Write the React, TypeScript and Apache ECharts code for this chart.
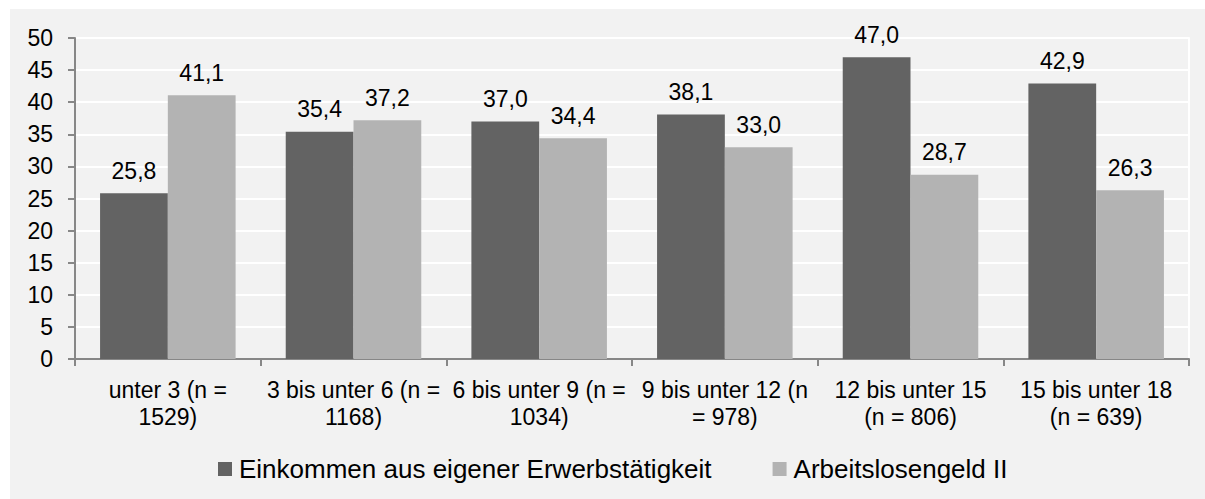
import React, { useEffect, useRef } from "react";
import * as echarts from "echarts";

const categories = [
  "unter 3 (n =\n1529)",
  "3 bis unter 6 (n =\n1168)",
  "6 bis unter 9 (n =\n1034)",
  "9 bis unter 12 (n\n= 978)",
  "12 bis unter 15\n(n = 806)",
  "15 bis unter 18\n(n = 639)",
];
const seriesNames = ["Einkommen aus eigener Erwerbstätigkeit", "Arbeitslosengeld II"];
const einkommen = [25.8, 35.4, 37.0, 38.1, 47.0, 42.9];
const alg2 = [41.1, 37.2, 34.4, 33.0, 28.7, 26.3];

const FONT = "Liberation Sans, Arial, sans-serif";

export default function App() {
  const ref = useRef<HTMLDivElement>(null);
  useEffect(() => {
    if (!ref.current) return;
    const chart = echarts.init(ref.current, null, { renderer: "svg" });
    const fmt = (p: any) => Number(p.value).toFixed(1).replace(".", ",");
    const label = {
      show: true,
      position: "top",
      distance: 11,
      fontSize: 23,
      fontFamily: FONT,
      color: "#000",
      formatter: fmt,
    };
    chart.setOption({
      animation: false,
      backgroundColor: "#f2f2f2",
      textStyle: { fontFamily: FONT },
      grid: { left: 65, top: 29, right: 16, bottom: 140, containLabel: false },
      legend: {
        data: seriesNames,
        left: 208,
        top: 446,
        padding: 0,
        itemWidth: 14,
        itemHeight: 14,
        itemGap: 61,
        icon: "rect",
        textStyle: {
          fontSize: 26,
          fontFamily: FONT,
          color: "#000",
          lineHeight: 28,
          padding: [0, 0, 0, 2],
        },
      },
      xAxis: {
        type: "category",
        data: categories,
        axisLine: { lineStyle: { color: "#878787", width: 2 } },
        axisTick: { show: true, length: 7, lineStyle: { color: "#878787", width: 2 } },
        axisLabel: {
          interval: 0,
          margin: 17,
          fontSize: 23,
          lineHeight: 27,
          color: "#000",
          fontFamily: FONT,
        },
      },
      yAxis: [
        {
          type: "value",
          min: 0,
          max: 50,
          interval: 5,
          axisLine: { show: true, lineStyle: { color: "#878787", width: 2 } },
          axisTick: { show: true, length: 7, lineStyle: { color: "#878787", width: 2 } },
          axisLabel: { margin: 22, fontSize: 23, color: "#000", fontFamily: FONT },
          splitLine: { show: true, lineStyle: { color: "#ffffff", width: 2 } },
        },
        {
          type: "value",
          position: "right",
          min: 0,
          max: 50,
          interval: 5,
          axisLine: { show: true, lineStyle: { color: "#ffffff", width: 2 } },
          axisTick: { show: false },
          axisLabel: { show: false },
          splitLine: { show: false },
        },
      ],
      series: [
        {
          name: seriesNames[0],
          type: "bar",
          data: einkommen,
          barGap: "0%",
          barCategoryGap: "27%",
          itemStyle: { color: "#636363" },
          label,
        },
        {
          name: seriesNames[1],
          type: "bar",
          data: alg2,
          barGap: "0%",
          barCategoryGap: "27%",
          itemStyle: { color: "#b3b3b3" },
          label,
        },
      ],
    });
    return () => chart.dispose();
  }, []);
  return (
    <div style={{ position: "absolute", left: 0, top: 0, width: 1205, height: 499, background: "#fff" }}>
      <div ref={ref} style={{ position: "absolute", left: 10, top: 9, width: 1195, height: 490 }} />
    </div>
  );
}
